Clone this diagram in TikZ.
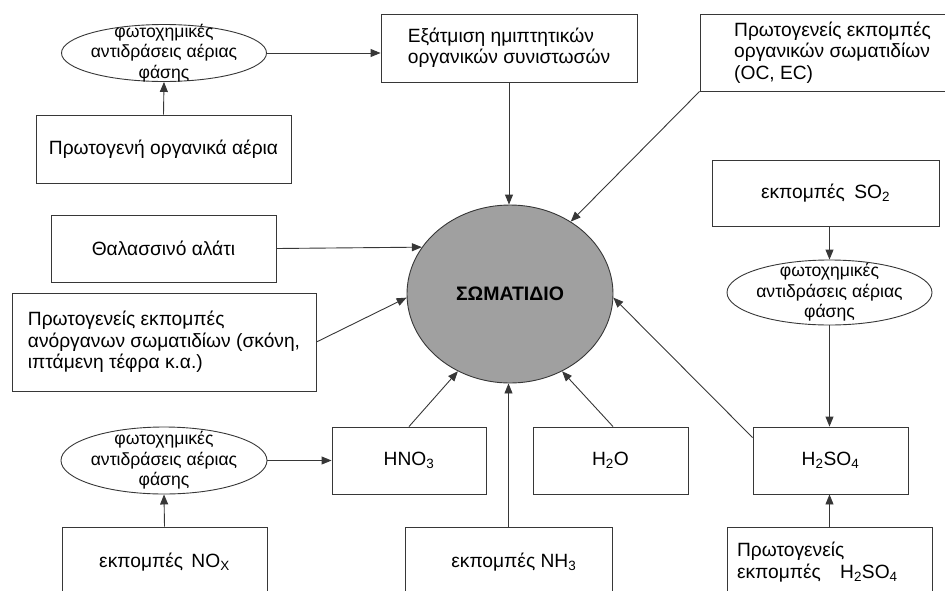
\documentclass[tikz,border=0pt]{standalone}
\usepackage{fontspec}
\setmainfont{Liberation Sans}
\usetikzlibrary{shapes.geometric,arrows.meta}
\definecolor{lineclr}{RGB}{55,55,55}
\definecolor{somafill}{RGB}{160,160,160}
\begin{document}
\begin{tikzpicture}[x=1pt,y=-1pt,
  box/.style={draw=lineclr,line width=.9pt,rectangle,align=left,font=\fontsize{19.2}{21.5}\selectfont},
  reaction/.style={draw=lineclr,line width=.9pt,ellipse,align=center,inner xsep=-40pt,inner ysep=-14pt,font=\fontsize{17.6}{20.5}\selectfont},
  feed/.style={draw=lineclr,line width=.9pt,-{Triangle[length=10pt,width=8pt]}}]

\path[use as bounding box] (0,0) rectangle (945,590);
\clip (0,0) rectangle (945,590);

% particle
\node[draw=lineclr,line width=.9pt,ellipse,fill=somafill,minimum width=206,minimum height=178,inner sep=0pt,font=\fontsize{19.5}{22}\selectfont\bfseries] (soma) at (510,294) {ΣΩΜΑΤΙΔΙΟ};

% organic side
\node[reaction,minimum width=205,minimum height=57] (photoA) at (164,53) {φωτοχημικές\\αντιδράσεις αέριας\\φάσης};
\node[box,minimum width=255,minimum height=68] (orggas) at (163.5,149) {Πρωτογενή οργανικά αέρια};
\node[box,minimum width=256,minimum height=68] (evap) at (509,48) {Εξάτμιση ημιπτητικών\\οργανικών συνιστωσών};
\node[box,minimum width=265,minimum height=77] (ocec) at (832.5,52.5) {Πρωτογενείς εκπομπές\\οργανικών σωματιδίων\\(OC, EC)};
\draw[feed] (orggas.north) -- (photoA.south);
\draw[feed] (photoA.east) -- (photoA.east -| evap.west);
\draw[feed] (evap.south) -- (evap.south |- soma.north);
\draw[feed] (ocec.south west) -- (soma.50);

% inorganic primary
\node[box,minimum width=225,minimum height=67] (salt) at (163.5,248.5) {Θαλασσινό αλάτι};
\node[box,minimum width=304,minimum height=98] (inorg) at (164,342) {Πρωτογενείς εκπομπές\\ανόργανων σωματιδίων (σκόνη,\\ιπτάμενη τέφρα κ.α.)};
\draw[feed] (salt.east) -- (soma.152);
\draw[feed] (inorg.east) -- (soma.182);

% nitrate and ammonia
\node[reaction,minimum width=206,minimum height=67] (photoB) at (164,460.5) {φωτοχημικές\\αντιδράσεις αέριας\\φάσης};
\node[box,minimum width=205,minimum height=70] (nox) at (164.5,562) {εκπομπές\hspace{3pt} NO\textsubscript{X}};
\node[box,minimum width=154,minimum height=67] (hno) at (409,460.5) {HNO\textsubscript{3}};
\node[box,minimum width=207,minimum height=70] (nh) at (508.5,562) {\ \ εκπομπές NH\textsubscript{3}};
\node[box,minimum width=155,minimum height=67] (water) at (610.5,460.5) {H\textsubscript{2}O};
\draw[feed] (nox.north) -- (photoB.south);
\draw[feed] (photoB.east) -- (hno.west);
\draw[feed] (hno.north) -- (soma.236);
\draw[feed] (nh.north) -- (nh.north |- soma.south);
\draw[feed] ([xshift=2.5pt]water.north) -- (soma.304);

% sulfate
\node[box,minimum width=227,minimum height=66] (so) at (825.5,193) {εκπομπές\hspace{4pt} SO\textsubscript{2}};
\node[reaction,minimum width=205,minimum height=65] (photoC) at (829.5,292.5) {φωτοχημικές\\αντιδράσεις αέριας\\φάσης};
\node[box,minimum width=155,minimum height=67] (hso) at (830.5,460.5) {H\textsubscript{2}SO\textsubscript{4}};
\node[box,minimum width=205,minimum height=70,text width=185,inner xsep=10pt] (primhso) at (829.5,562) {Πρωτογενείς\\εκπομπές\ \ \ H\textsubscript{2}SO\textsubscript{4}};
\draw[feed] (photoC.north |- so.south) -- (photoC.north);
\draw[feed] (photoC.south) -- (photoC.south |- hso.north);
\draw[feed] (primhso.north) -- (primhso.north |- hso.south);
\draw[feed] ([yshift=-11pt]hso.north west) -- (soma.358);

\end{tikzpicture}
\end{document}
